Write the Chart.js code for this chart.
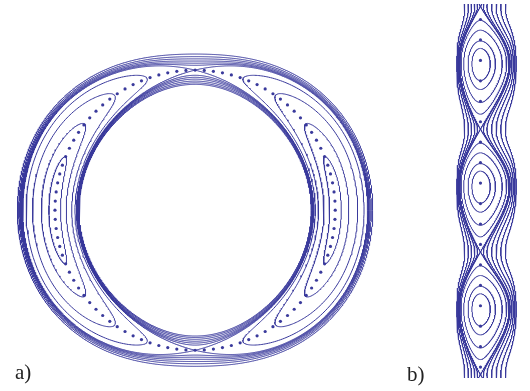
<!DOCTYPE html>
<html>
<head>
<meta charset="utf-8">
<script src="https://cdn.jsdelivr.net/npm/chart.js@4.4.0/dist/chart.umd.min.js"></script>
<style>
  body { margin: 0; background: #fff; width: 530px; height: 391px; position: relative; overflow: hidden; }
  canvas { position: absolute; top: 0; }
  #ringCanvas { left: 0; }
  #stripCanvas { left: 430px; }
  .tag { position: absolute; font-family: 'Liberation Serif', 'DejaVu Serif', serif; font-size: 21px; color: #222; line-height: 1; }
</style>
</head>
<body>
<canvas id="ringCanvas" width="400" height="391"></canvas>
<canvas id="stripCanvas" width="100" height="391"></canvas>
<div class="tag" style="left:15px;top:362px">a)</div>
<div class="tag" style="left:407px;top:364px">b)</div>
<script>
// ---- data ----
// a) annulus: angular half-width (deg from island centre) of the island orbits
const islandTipDeg = [22.5, 38, 55, 70];
// energy levels (separatrix = 1)
const separatrixLevel = 1.0;
const outerRotLevels = [1.03, 1.06, 1.1, 1.15, 1.21, 1.29];
const innerRotLevels = [1.04, 1.08, 1.13, 1.2, 1.28, 1.36];
const chainDotCount = 96;

// b) strip: libration levels, rotation levels on each side, dots per period
const stripIslandLevels = [0.16, 0.34, 0.64, 0.87];
const stripRightLevels = [1.015, 1.073, 1.196, 1.362, 1.566, 1.797];
const stripLeftLevels = [1.016, 1.065, 1.167, 1.315, 1.552];
const stripDotsPerPeriod = 6;

const LINE = '#3a3a9c';
const TAU = Math.PI * 2;

function lineSet(data) {
  return { data, showLine: true, pointRadius: 0, borderColor: LINE, borderWidth: 1, tension: 0, fill: false };
}
function dotSet(data) {
  return { data, showLine: false, pointRadius: 1.6, pointBorderWidth: 0, backgroundColor: LINE };
}

// ---- a) geometry ----
const ring = { r0: 143, sp: 27.5, sq: 5.5, power: 3.2 };

function ringV(phi) { return Math.pow(Math.abs(Math.sin(phi)), ring.power); }
function localAngle(a) {
  // angle from the nearest island centre (islands sit at 0 and pi)
  return ((a + Math.PI / 2) % Math.PI + Math.PI) % Math.PI - Math.PI / 2;
}
function polar(a, p) {
  const r = ring.r0 + ring.sp * p + ring.sq * p * p;
  return { x: r * Math.cos(a), y: r * Math.sin(a) };
}

const ringSets = [];

islandTipDeg.forEach(deg => {
  const ft = deg * Math.PI / 180;
  const h = ringV(ft);
  [0, Math.PI].forEach(c => {
    const n = 160, outer = [], inner = [];
    for (let i = 0; i <= n; i++) {
      const phi = -ft + 2 * ft * (1 - Math.cos(Math.PI * i / n)) / 2;
      const p = Math.sqrt(Math.max(0, h - ringV(phi)));
      outer.push(polar(c + phi, p));
      inner.push(polar(c + phi, -p));
    }
    ringSets.push(lineSet(outer.concat(inner.reverse())));
  });
});

function rotating(h, sign) {
  const n = 1440, pts = [];
  for (let i = 0; i <= n; i++) {
    const a = TAU * i / n;
    const p = Math.sqrt(Math.max(0, h - ringV(localAngle(a))));
    pts.push(polar(a, sign * p));
  }
  return lineSet(pts);
}
ringSets.push(rotating(separatrixLevel, 1), rotating(separatrixLevel, -1));
outerRotLevels.forEach(h => ringSets.push(rotating(h, 1)));
innerRotLevels.forEach(h => ringSets.push(rotating(h, -1)));

const chainDots = [];
for (let k = 0; k < chainDotCount; k++) chainDots.push(polar(TAU * k / chainDotCount, 0));
ringSets.push(dotSet(chainDots));

// ---- b) geometry ----
// w: phase with island centres at 2*pi*k; lean pushes the x-points slightly downward
const strip = { period: 124, firstCentre: 60.5, dotStart: 57, power: 2, lean: 0.1,
                rs: 24, rq: 7, rSlope: 38, rSat: 20, ls: 24, lq: 1.5, lSlope: 21, lSat: 8 };

function stripV(w) { return Math.pow(Math.abs(Math.sin(w / 2)), strip.power); }
function stripY(w) { return strip.firstCentre + (w + strip.lean * (1 - Math.cos(w))) * strip.period / TAU; }
function stripX(q) {
  if (q >= 0) {
    if (q <= 1) return strip.rs * q + strip.rq * q * q;
    const d = q - 1;
    return strip.rs + strip.rq + strip.rSlope * d / (1 + strip.rSlope * d / strip.rSat);
  }
  const u = -q;
  if (u <= 1) return -(strip.ls * u - strip.lq * u * u);
  const d = u - 1;
  return -(strip.ls - strip.lq + strip.lSlope * d / (1 + strip.lSlope * d / strip.lSat));
}
function stripPoint(w, q) { return { x: stripX(q), y: stripY(w) }; }

const stripSets = [];
for (let k = -1; k <= 3; k++) {
  const c = TAU * k;
  stripIslandLevels.forEach(h => {
    const wt = 2 * Math.asin(Math.pow(h, 1 / strip.power));
    const n = 200, right = [], left = [];
    for (let i = 0; i <= n; i++) {
      const w = c - wt + 2 * wt * (1 - Math.cos(Math.PI * i / n)) / 2;
      const q = Math.sqrt(Math.max(0, h - stripV(w)));
      right.push(stripPoint(w, q));
      left.push(stripPoint(w, -q));
    }
    stripSets.push(lineSet(right.concat(left.reverse())));
  });
}
function stripRotating(h, sign) {
  const n = 2000, pts = [], wA = -4, wB = 18;
  for (let i = 0; i <= n; i++) {
    const w = wA + (wB - wA) * i / n;
    pts.push(stripPoint(w, sign * Math.sqrt(Math.max(0, h - stripV(w)))));
  }
  return lineSet(pts);
}
stripSets.push(stripRotating(separatrixLevel, 1), stripRotating(separatrixLevel, -1));
stripRightLevels.forEach(h => stripSets.push(stripRotating(h, 1)));
stripLeftLevels.forEach(h => stripSets.push(stripRotating(h, -1)));

const stripDots = [];
for (let k = -2; k <= 3 * stripDotsPerPeriod; k++) {
  stripDots.push({ x: 0, y: strip.dotStart + k * strip.period / stripDotsPerPeriod });
}
stripSets.push(dotSet(stripDots));

// ---- charts ----
function baseOptions(xMin, xMax, yMin, yMax, reverse, padBottom) {
  return {
    responsive: false,
    animation: false,
    events: [],
    layout: { padding: { left: 0, right: 0, top: 0, bottom: padBottom } },
    plugins: { legend: { display: false }, tooltip: { enabled: false } },
    scales: {
      x: { type: 'linear', display: false, min: xMin, max: xMax },
      y: { type: 'linear', display: false, min: yMin, max: yMax, reverse }
    }
  };
}

new Chart(document.getElementById('ringCanvas'), {
  type: 'scatter',
  data: { datasets: ringSets },
  options: baseOptions(-195, 205, -180.5, 210.5, false, 0)
});

new Chart(document.getElementById('stripCanvas'), {
  type: 'scatter',
  data: { datasets: stripSets },
  options: baseOptions(-50.5, 49.5, 0, 378, true, 13)
});
</script>
</body>
</html>
